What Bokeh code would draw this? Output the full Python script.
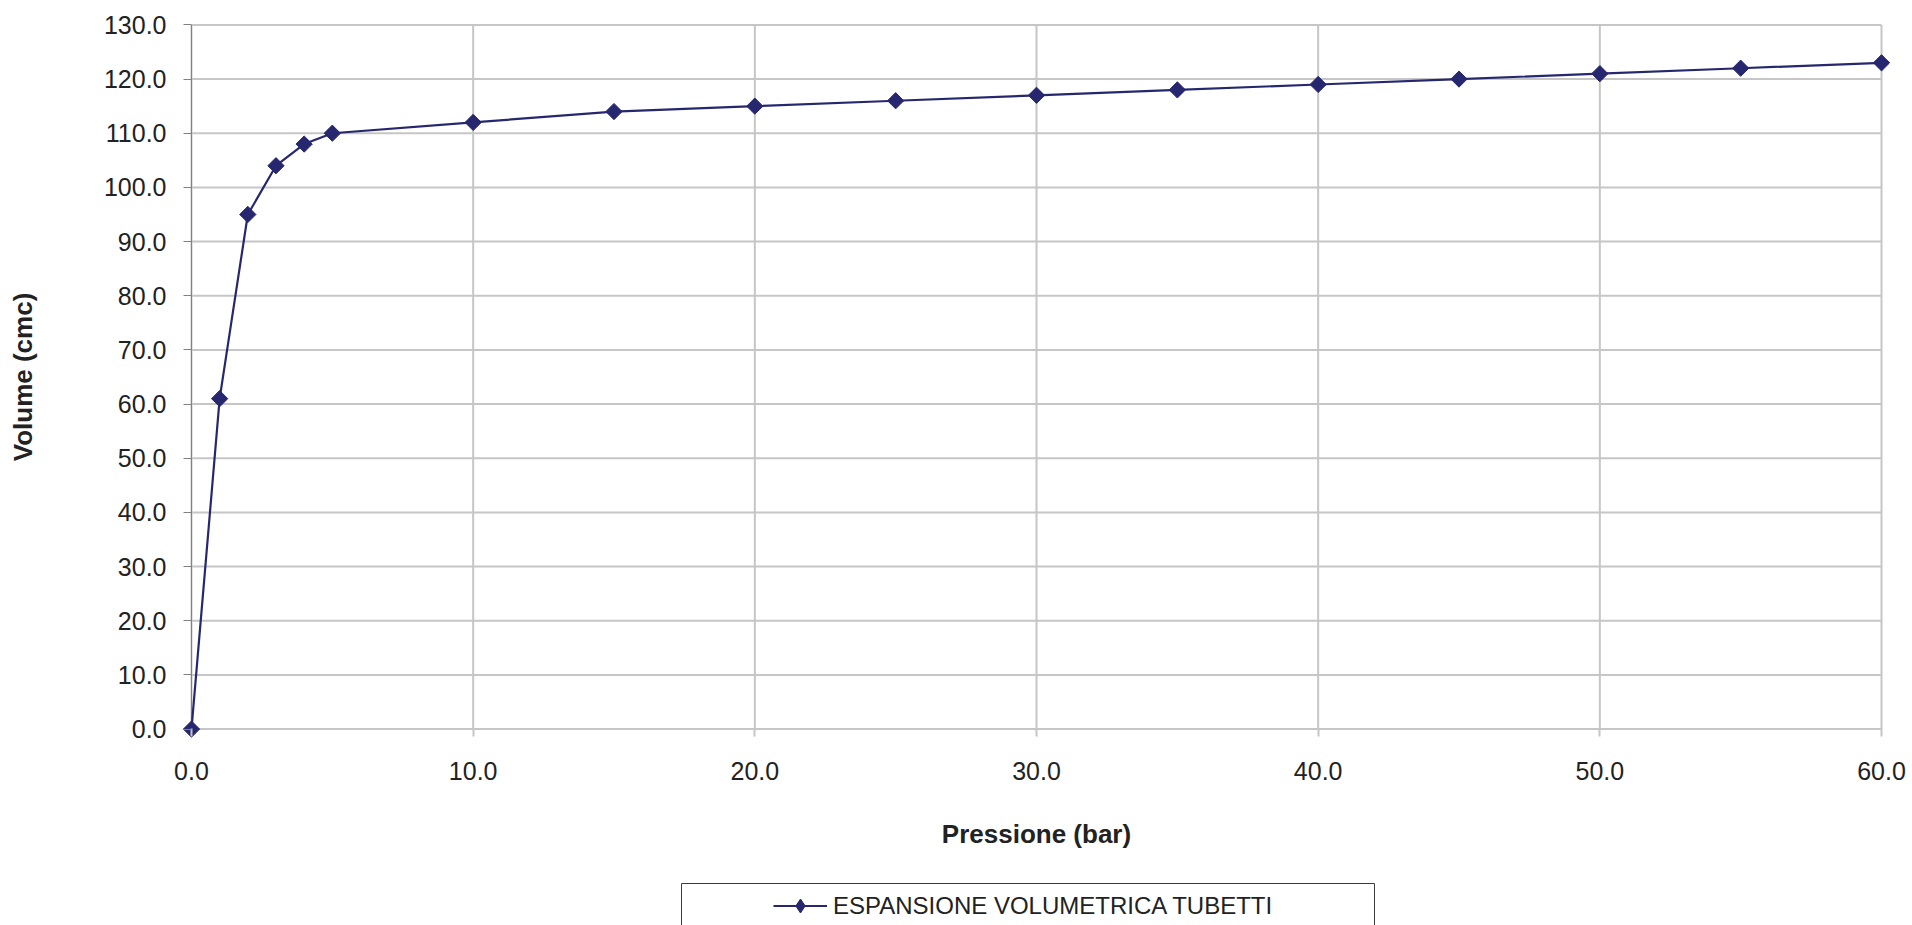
from bokeh.plotting import figure
from bokeh.layouts import column, row
from bokeh.models import (Range1d, FixedTicker, NumeralTickFormatter, Legend,
                          LegendItem, ColumnDataSource, Spacer)
from bokeh.embed import file_html
from bokeh.resources import INLINE
import math

# ---- data ----
pressione = [0, 1, 2, 3, 4, 5, 10, 15, 20, 25, 30, 35, 40, 45, 50, 55, 60]
volume = [0, 61, 95, 104, 108, 110, 112, 114, 115, 116, 117, 118, 119, 120, 121, 122, 123]
x_ticks = [0, 10, 20, 30, 40, 50, 60]
y_ticks = [0, 10, 20, 30, 40, 50, 60, 70, 80, 90, 100, 110, 120, 130]
series_name = "ESPANSIONE VOLUMETRICA TUBETTI"
x_title = "Pressione (bar)"
y_title = "Volume (cmc)"

FONT = "Liberation Sans"
NAVY = "#26276f"
GRID = "#c6c6c6"
AXIS = "#808080"
TXT = "#222222"

x_lo, x_hi = x_ticks[0], x_ticks[-1]
y_lo, y_hi = y_ticks[0], y_ticks[-1]

src = ColumnDataSource(data=dict(x=pressione, y=volume))

# frame padded slightly so the end markers are not cut
p = figure(width=1912, height=882, output_backend="svg", toolbar_location=None,
           x_range=Range1d(x_lo - 0.39, x_hi + 0.39),
           y_range=Range1d(y_lo - 1.92, y_hi + 1.92),
           min_border_left=180, min_border_right=20, min_border_top=14,
           min_border_bottom=143)
p.outline_line_color = None
p.background_fill_color = "white"
p.border_fill_color = "white"
p.xgrid.visible = False
p.ygrid.visible = False

# grid lines limited to the axis extent
hsrc = ColumnDataSource(data=dict(y=y_ticks, x0=[x_lo] * len(y_ticks), x1=[x_hi] * len(y_ticks)))
vsrc = ColumnDataSource(data=dict(x=x_ticks, y0=[y_lo] * len(x_ticks), y1=[y_hi] * len(x_ticks)))
p.segment(x0="x0", x1="x1", y0="y", y1="y", source=hsrc, line_color=GRID, line_width=2)
p.segment(x0="x", x1="x", y0="y0", y1="y1", source=vsrc, line_color=GRID, line_width=2)
# value axis line
p.segment(x0=[x_lo], x1=[x_lo], y0=[y_lo], y1=[y_hi], line_color=AXIS, line_width=1)

line = p.line("x", "y", source=src, line_color=NAVY, line_width=2.2)
pts = p.scatter("x", "y", source=src, marker="square", size=11.5, angle=math.pi / 4,
                fill_color=NAVY, line_color=NAVY, line_width=1)

# axes (lines hidden; ticks reach from the frame edge to the value 0)
xa = p.xaxis[0]
ya = p.yaxis[0]
xa.ticker = FixedTicker(ticks=x_ticks)
ya.ticker = FixedTicker(ticks=y_ticks)
xa.formatter = NumeralTickFormatter(format="0.0")
ya.formatter = NumeralTickFormatter(format="0.0")
xa.minor_tick_line_color = None
ya.minor_tick_line_color = None
xa.axis_line_color = None
ya.axis_line_color = None

xa.major_tick_line_color = GRID
xa.major_tick_line_width = 2
xa.major_tick_in = 11
xa.major_tick_out = -3

ya.major_tick_line_color = AXIS
ya.major_tick_line_width = 1
ya.major_tick_in = 11
ya.major_tick_out = -3

for a in (xa, ya):
    a.major_label_text_font = FONT
    a.major_label_text_font_size = "25px"
    a.major_label_text_color = TXT
    a.axis_label_text_font = FONT
    a.axis_label_text_font_size = "26px"
    a.axis_label_text_font_style = "bold"
    a.axis_label_text_color = TXT

xa.major_label_standoff = 22
ya.major_label_standoff = 14
xa.axis_label = x_title
ya.axis_label = y_title
xa.axis_label_standoff = 36
ya.axis_label_standoff = 63

# legend in its own framed box below the chart
lf = figure(width=695, height=60, output_backend="svg", toolbar_location=None,
            x_range=Range1d(-1000, -999), y_range=Range1d(-1000, -999), min_border=1)
lf.axis.visible = False
lf.grid.visible = False
lf.outline_line_color = "#3a3a3a"
lf.outline_line_width = 1
l_line = lf.line("x", "y", source=src, line_color=NAVY, line_width=2.2)
l_pts = lf.scatter("x", "y", source=src, marker="diamond",
                   fill_color=NAVY, line_color=NAVY, line_width=1)
legend = Legend(items=[LegendItem(label=series_name, renderers=[l_line, l_pts])],
                location=(92, 18), orientation="horizontal",
                padding=0, margin=0, spacing=0,
                glyph_width=54, glyph_height=35, label_standoff=6,
                label_text_font=FONT, label_text_font_size="24px",
                label_text_color=TXT,
                border_line_alpha=0, background_fill_alpha=0)
lf.add_layout(legend, "center")

layout = column(p, row(Spacer(width=680, height=60), lf, spacing=0), spacing=0)

open("out.html", "w").write(file_html(layout, INLINE))
